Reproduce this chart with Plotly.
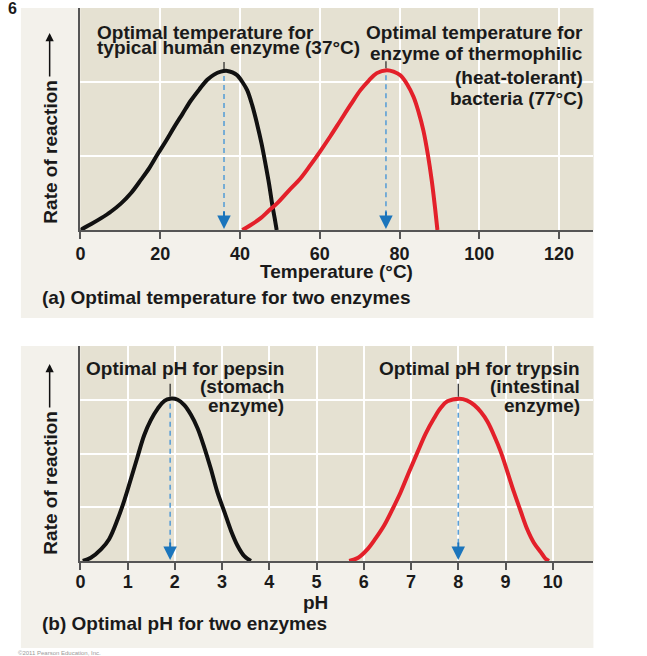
import plotly.graph_objects as go

# ---------------- data ----------------
temp_human = [0, 2.7, 5.2, 7.7, 10.2, 12.7, 15.2, 17.3, 19.3, 21.4, 23.5, 25.6, 27.7, 29.8, 31.8, 33.5,
              35.2, 36.8, 38.1, 39.3, 40.6, 41.8, 43.1, 44.3, 45.4, 46.4, 47.3, 48.1, 48.7, 49.2]
rate_human = [0, 0.08, 0.16, 0.25, 0.36, 0.50, 0.68, 0.84, 1.02, 1.20, 1.39, 1.57, 1.75, 1.90, 2.03, 2.10,
              2.14, 2.15, 2.13, 2.09, 2.00, 1.89, 1.68, 1.43, 1.17, 0.89, 0.62, 0.34, 0.16, 0]

temp_thermo = [40.6, 42.5, 45.2, 47.2, 49.3, 52.2, 55.2, 57.7, 60.2, 62.7, 65.2, 67.7, 70.2, 72.3, 74.3,
               76.8, 78.5, 80.2, 81.9, 83.5, 84.8, 86.0, 87.1, 88.1, 88.9, 89.5]
rate_thermo = [0, 0.06, 0.16, 0.26, 0.36, 0.53, 0.70, 0.88, 1.07, 1.27, 1.48, 1.69, 1.89, 2.02, 2.12,
               2.16, 2.14, 2.09, 1.97, 1.80, 1.59, 1.34, 1.02, 0.66, 0.30, 0]

ph_pepsin = [0.05, 0.22, 0.44, 0.61, 0.79, 0.93, 1.07, 1.21, 1.35, 1.49, 1.64, 1.78, 1.90, 2.06, 2.20,
             2.34, 2.48, 2.62, 2.76, 2.90, 3.05, 3.19, 3.33, 3.47, 3.61]
rate_pepsin = [0, 0.06, 0.22, 0.41, 0.78, 1.13, 1.53, 1.94, 2.34, 2.62, 2.84, 2.98, 3.02, 3.00, 2.90,
               2.72, 2.47, 2.12, 1.72, 1.28, 0.91, 0.56, 0.28, 0.09, 0]

ph_trypsin = [5.69, 5.88, 6.08, 6.25, 6.43, 6.60, 6.78, 6.96, 7.14, 7.31, 7.49, 7.63, 7.77, 8.02, 8.18,
              8.34, 8.48, 8.62, 8.76, 8.90, 9.04, 9.18, 9.32, 9.46, 9.60, 9.75, 9.84, 9.92]
rate_trypsin = [0, 0.06, 0.22, 0.42, 0.66, 0.95, 1.28, 1.66, 2.03, 2.37, 2.66, 2.85, 2.97, 3.02, 2.99,
                2.90, 2.77, 2.59, 2.33, 2.03, 1.66, 1.28, 0.93, 0.59, 0.34, 0.16, 0.05, 0]

opt_temp = [36, 76.6]
opt_ph = [1.9, 8.0]

temp_ticks = [0, 20, 40, 60, 80, 100, 120]
ph_ticks = [0, 1, 2, 3, 4, 5, 6, 7, 8, 9, 10]

label_temp_human = ["Optimal temperature for", "typical human enzyme (37°C)"]
label_temp_thermo = ["Optimal temperature for", "enzyme of thermophilic", "(heat-tolerant)", "bacteria (77°C)"]
label_ph_pepsin = ["Optimal pH for pepsin", "(stomach", "enzyme)"]
label_ph_trypsin = ["Optimal pH for trypsin", "(intestinal", "enzyme)"]

# ---------------- layout helpers ----------------
W, H = 647, 656
def PX(p):
    return p / W
def PY(p):
    return 1 - p / H

FONT = "Liberation Sans, Arial, Helvetica, sans-serif"
TXT = "#1a1a1a"
BEIGE = "#e5e1d2"
LIGHT = "#f3f1eb"
AXC = "#555555"
BLACK = "#111111"
RED = "#e3202a"
DASH = "#5b9fd6"
ARROW = "#1b75bc"

fig = go.Figure()

def curve(xs, ys, color, xa, ya):
    fig.add_trace(go.Scatter(x=xs, y=ys, mode="lines",
                             line=dict(color=color, width=4, shape="spline", smoothing=1.0),
                             xaxis=xa, yaxis=ya))

curve(temp_human, rate_human, BLACK, "x", "y")
curve(temp_thermo, rate_thermo, RED, "x", "y")
curve(ph_pepsin, rate_pepsin, BLACK, "x2", "y2")
curve(ph_trypsin, rate_trypsin, RED, "x2", "y2")

annotations = []
shapes = []

def optimum_marks(xs, rates, xa, ya, unit_px, label_top_px):
    peak = max(rates)
    fig.add_trace(go.Scatter(x=[xs, xs], y=[peak - 5 / unit_px, 14 / unit_px], mode="lines",
                             line=dict(color=DASH, width=1.6, dash="5px,4px"), xaxis=xa, yaxis=ya))
    fig.add_trace(go.Scatter(x=[xs, xs], y=[peak + 2 / unit_px, peak + label_top_px / unit_px], mode="lines",
                             line=dict(color="#222222", width=1.2), xaxis=xa, yaxis=ya))
    annotations.append(dict(x=xs, y=0, xref=xa, yref=ya, text="", showarrow=True, ax=0, ay=-20,
                            arrowhead=2, arrowwidth=2, arrowsize=1.35, arrowcolor=ARROW, standoff=1))

optimum_marks(opt_temp[0], rate_human, "x", "y", 74.0, 9)
optimum_marks(opt_temp[1], rate_thermo, "x", "y", 74.0, 9)
optimum_marks(opt_ph[0], rate_pepsin, "x2", "y2", 53.75, 15)
optimum_marks(opt_ph[1], rate_trypsin, "x2", "y2", 53.75, 15)

# panels
shapes.append(dict(type="rect", xref="paper", yref="paper", x0=PX(16), x1=PX(593), y0=PY(318), y1=PY(8), fillcolor=LIGHT, line=dict(width=0), layer="below"))
shapes.append(dict(type="rect", xref="paper", yref="paper", x0=PX(76), x1=PX(593), y0=PY(230), y1=PY(8), fillcolor=BEIGE, line=dict(width=0), layer="below"))
shapes.append(dict(type="rect", xref="paper", yref="paper", x0=PX(16), x1=PX(593), y0=PY(648), y1=PY(346), fillcolor=LIGHT, line=dict(width=0), layer="below"))
shapes.append(dict(type="rect", xref="paper", yref="paper", x0=PX(76), x1=PX(593), y0=PY(561), y1=PY(346), fillcolor=BEIGE, line=dict(width=0), layer="below"))

def text(x, y, s, size=19, xanchor="left", weight="bold", color=TXT, angle=0):
    annotations.append(dict(x=PX(x), y=PY(y), xref="paper", yref="paper", text=s, showarrow=False,
                            xanchor=xanchor, yanchor="middle", textangle=angle, borderpad=0, borderwidth=0,
                            font=dict(family=FONT, size=size, color=color, weight=weight)))

for s, y in zip(label_temp_human, [33, 47]):
    text(93, y, s, xanchor="left")
for s, y in zip(label_temp_thermo, [32, 54, 77, 99]):
    text(583, y, s, xanchor="right")
for s, y in zip(label_ph_pepsin, [368, 386, 405]):
    text(281.5, y, s, xanchor="right")
for s, y in zip(label_ph_trypsin, [368, 386, 405]):
    text(579, y, s, xanchor="right")

text(334, 272, "Temperature (°C)", xanchor="center")
text(37.5, 297, "(a) Optimal temperature for two enzymes")
text(313, 602, "pH", xanchor="center")
text(37.5, 623, "(b) Optimal pH for two enzymes")
text(45, 152, "Rate of reaction", xanchor="center", angle=-90)
text(45, 483, "Rate of reaction", xanchor="center", angle=-90)
text(8, 8, "6", size=16, xanchor="center")
text(13, 653, "©2011 Pearson Education, Inc.", size=6, weight="normal", color="#9a9a9a")

for tip in [33, 364]:
    annotations.append(dict(x=PX(45), y=PY(tip), xref="paper", yref="paper", text="", showarrow=True,
                            ax=0, ay=45, arrowhead=2, arrowwidth=1.5, arrowsize=1.1, arrowcolor="#111111", standoff=0))

xcommon = dict(showgrid=True, gridcolor="white", gridwidth=1.5, zeroline=False, showline=True,
               linecolor=AXC, linewidth=2, ticks="outside", ticklen=7, tickwidth=1.5, tickcolor=AXC,
               tickfont=dict(family=FONT, size=18, color=TXT, weight="bold"), fixedrange=True)
ycommon = dict(showgrid=True, gridcolor="white", gridwidth=1.5, zeroline=False, showline=True,
               linecolor=AXC, linewidth=2, ticks="", showticklabels=False, fixedrange=True)

fig.update_layout(
    width=W, height=H, margin=dict(l=0, r=0, t=0, b=0),
    paper_bgcolor="white", plot_bgcolor="rgba(0,0,0,0)", showlegend=False,
    xaxis=dict(domain=[PX(76), PX(593)], range=[0, 517 / 4.02], tickvals=temp_ticks, anchor="y",
               ticklabelstandoff=-1, **xcommon),
    yaxis=dict(domain=[PY(230), PY(8)], range=[0, 3], tickvals=[0, 1, 2, 3], anchor="x", **ycommon),
    xaxis2=dict(domain=[PX(76), PX(593)], range=[0, 517 / 47.6], tickvals=ph_ticks, anchor="y2",
                ticklabelstandoff=-4, **xcommon),
    yaxis2=dict(domain=[PY(561), PY(346)], range=[0, 4], tickvals=[0, 1, 2, 3, 4], anchor="x2", **ycommon),
    annotations=annotations, shapes=shapes,
)

fig.write_html("out.html", config=dict(displayModeBar=False),
               post_script="document.body.style.margin='0';document.body.style.overflow='hidden';")
